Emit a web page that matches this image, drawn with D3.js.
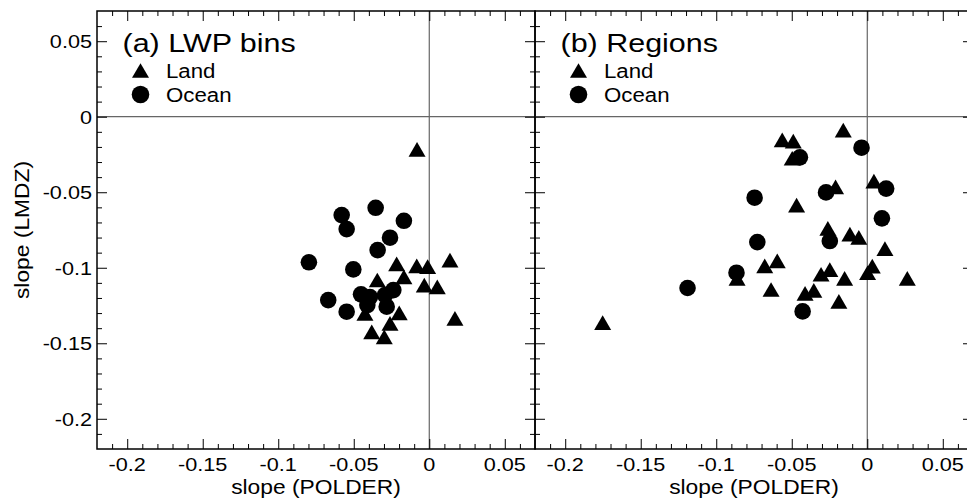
<!DOCTYPE html>
<html>
<head>
<meta charset="utf-8">
<script src="https://cdn.jsdelivr.net/npm/d3@7"></script>
<style>
  html, body { margin: 0; padding: 0; background: #fff; }
  svg { display: block; }
  text { font-family: "Liberation Sans", Arial, Helvetica, sans-serif; fill: #000; }
</style>
</head>
<body>
<svg id="chart" width="967" height="500"></svg>
<script>
// Slopes (LMDZ vs POLDER), panel (a): LWP bins
const lwpLand = [
  [-0.0081, -0.0216], [-0.0216, -0.0975], [-0.0083, -0.0987], [-0.0011, -0.0993],
  [0.0137, -0.0949], [-0.0168, -0.1060], [-0.0033, -0.1115], [0.0053, -0.1126],
  [-0.0344, -0.1081], [0.0170, -0.1335], [-0.0199, -0.1298], [-0.0426, -0.1302],
  [-0.0260, -0.1368], [-0.0381, -0.1424], [-0.0298, -0.1457]
];
const lwpOcean = [
  [-0.0580, -0.0651], [-0.0355, -0.0603], [-0.0547, -0.0744], [-0.0168, -0.0689],
  [-0.0260, -0.0801], [-0.0342, -0.0883], [-0.0797, -0.0964], [-0.0503, -0.1011],
  [-0.0669, -0.1214], [-0.0547, -0.1291], [-0.0452, -0.1176], [-0.0393, -0.1194],
  [-0.0410, -0.1247], [-0.0238, -0.1148], [-0.0293, -0.1181], [-0.0282, -0.1258]
];

// Panel (b): regions
const regionLand = [
  [-0.0159, -0.0088], [-0.0563, -0.0154], [-0.0490, -0.0161], [-0.0497, -0.0275],
  [-0.0210, -0.0464], [0.0044, -0.0426], [-0.0468, -0.0585], [-0.0261, -0.0739],
  [-0.0115, -0.0777], [-0.0056, -0.0799], [0.0117, -0.0873], [-0.0679, -0.0987],
  [-0.0596, -0.0954], [-0.0306, -0.1043], [-0.0248, -0.1013], [-0.0150, -0.1070],
  [0.0002, -0.1033], [0.0033, -0.0989], [0.0265, -0.1070], [-0.0637, -0.1144],
  [-0.0412, -0.1170], [-0.0354, -0.1150], [-0.0188, -0.1223], [-0.0862, -0.1070],
  [-0.1752, -0.1364]
];
const regionOcean = [
  [-0.0038, -0.0205], [-0.0446, -0.0269], [-0.0273, -0.0501], [0.0125, -0.0476],
  [-0.0746, -0.0536], [0.0097, -0.0673], [-0.0728, -0.0830], [-0.0248, -0.0823],
  [-0.0428, -0.1289], [-0.0866, -0.1033], [-0.1190, -0.1134]
];

const panelTitles = ["(a) LWP bins", "(b) Regions"];
const legendLabels = ["Land", "Ocean"];
const majorTicks = [-0.2, -0.15, -0.1, -0.05, 0, 0.05];
const tickLabels = ["-0.2", "-0.15", "-0.1", "-0.05", "0", "0.05"];
const minorTicks = d3.range(-21, 7).filter(i => i % 5 !== 0).map(i => i / 100);
const xTitle = "slope (POLDER)";
const yTitle = "slope (LMDZ)";
const domain = [-0.22, 0.07];

const svg = d3.select("#chart");
const plotTop = 11, plotBottom = 449, panelW = 438;
const panels = [
  { x0: 97, land: lwpLand, ocean: lwpOcean, title: panelTitles[0], yLabels: true },
  { x0: 535, land: regionLand, ocean: regionOcean, title: panelTitles[1], yLabels: false }
];

const stretch = 1.14;
const triSide = 17, triH = triSide * Math.sqrt(3) / 2, dotR = 8.3;
const triPath = `M0,${-triH / 2}L${triSide / 2},${triH / 2}L${-triSide / 2},${triH / 2}Z`;

function label(g, x, y, str, size, anchor, sx) {
  return g.append("text")
    .attr("transform", `translate(${x},${y}) scale(${sx},1)`)
    .attr("text-anchor", anchor)
    .attr("font-size", size)
    .text(str);
}

panels.forEach(p => {
  const x = d3.scaleLinear().domain(domain).range([p.x0, p.x0 + panelW]);
  const y = d3.scaleLinear().domain(domain).range([plotBottom, plotTop]);
  const g = svg.append("g");

  // zero lines
  g.append("line").attr("x1", x(domain[0])).attr("x2", x(domain[1]))
    .attr("y1", y(0)).attr("y2", y(0)).attr("stroke", "#666").attr("stroke-width", 1.2);
  g.append("line").attr("x1", x(0)).attr("x2", x(0))
    .attr("y1", y(domain[0])).attr("y2", y(domain[1])).attr("stroke", "#666").attr("stroke-width", 1.2);

  // inward ticks on all four sides
  const sides = [
    [() => d3.axisBottom(x), `translate(0,${plotBottom})`],
    [() => d3.axisTop(x), `translate(0,${plotTop})`],
    [() => d3.axisLeft(y), `translate(${p.x0},0)`],
    [() => d3.axisRight(y), `translate(${p.x0 + panelW},0)`]
  ];
  sides.forEach(([make, tr]) => {
    [[minorTicks, 5], [majorTicks, 10]].forEach(([vals, len]) => {
      const a = make().tickValues(vals).tickSizeInner(-len).tickSizeOuter(0).tickFormat("");
      const ag = g.append("g").attr("transform", tr).call(a);
      ag.select(".domain").remove();
      ag.selectAll(".tick line").attr("stroke", "#000").attr("stroke-width", 1);
    });
  });

  // x tick labels
  majorTicks.forEach((v, i) => label(g, x(v), 471, tickLabels[i], 19, "middle", stretch));
  // y tick labels
  if (p.yLabels) {
    majorTicks.forEach((v, i) => label(g, p.x0 - 5, y(v) + 6.8, tickLabels[i], 19, "end", stretch));
  }

  // frame
  g.append("rect").attr("x", p.x0).attr("y", plotTop).attr("width", panelW).attr("height", plotBottom - plotTop)
    .attr("fill", "none").attr("stroke", "#000").attr("stroke-width", 1.5);

  // markers
  g.selectAll(".land").data(p.land).join("path").attr("class", "land")
    .attr("d", triPath).attr("fill", "#000")
    .attr("transform", d => `translate(${x(d[0])},${y(d[1])})`);
  g.selectAll(".ocean").data(p.ocean).join("circle").attr("class", "ocean")
    .attr("cx", d => x(d[0])).attr("cy", d => y(d[1])).attr("r", dotR).attr("fill", "#000");

  // title and legend
  label(g, p.x0 + 25.5, 51.7, p.title, 26.5, "start", 1.15);
  g.append("path").attr("d", triPath).attr("fill", "#000")
    .attr("transform", `translate(${p.x0 + 43.5},70.5)`);
  g.append("circle").attr("cx", p.x0 + 43.5).attr("cy", 94.5).attr("r", dotR + 0.5).attr("fill", "#000");
  label(g, p.x0 + 69, 78.3, legendLabels[0], 21, "start", 1.06);
  label(g, p.x0 + 69, 101.7, legendLabels[1], 21, "start", 1.06);

  // x axis title
  label(g, p.x0 + panelW / 2, 494, xTitle, 20, "middle", stretch);
});

// y axis title
svg.append("text")
  .attr("transform", `translate(29,230) rotate(-90) scale(${stretch},1)`)
  .attr("text-anchor", "middle")
  .attr("font-size", 20)
  .text(yTitle);
</script>
</body>
</html>
